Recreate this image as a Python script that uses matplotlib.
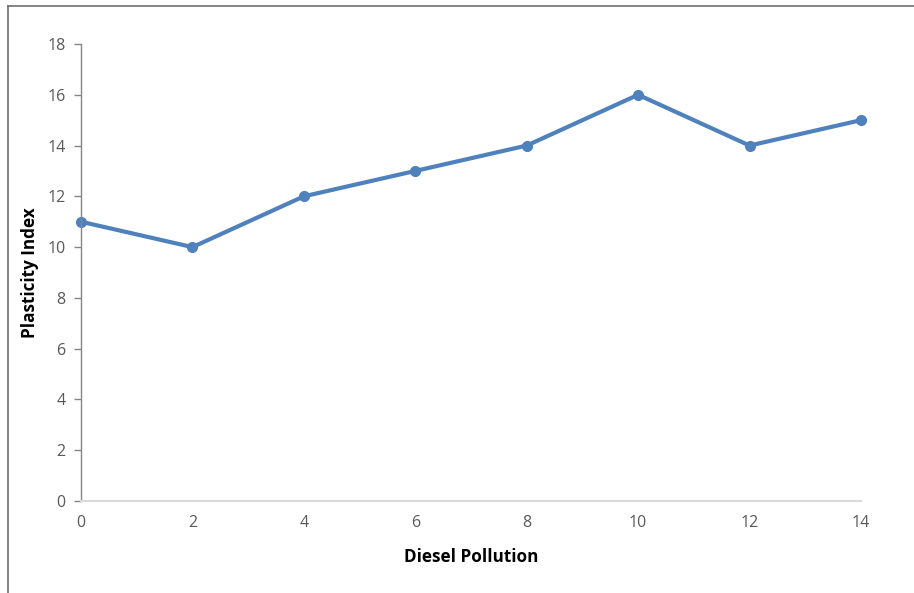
import matplotlib
matplotlib.use('Agg')
import matplotlib.pyplot as plt
from matplotlib.lines import Line2D

plt.rcParams['font.family'] = ['Open Sans', 'DejaVu Sans']

diesel = [0, 2, 4, 6, 8, 10, 12, 14]
plasticity = [11, 10, 12, 13, 14, 16, 14, 15]
yticks = [0, 2, 4, 6, 8, 10, 12, 14, 16, 18]

fig = plt.figure(figsize=(9.14, 5.93), dpi=100)
ax = fig.add_axes([81/914, 1-501/593, 780/914, 457/593])

ax.plot(diesel, plasticity, color='#4f81bd', lw=3.0, marker='o', ms=7, clip_on=False)

ax.set_xlim(0, 14)
ax.set_ylim(0, 18)
ax.set_xticks(diesel)
ax.set_yticks(yticks)

for s in ['top', 'right']:
    ax.spines[s].set_visible(False)
ax.spines['left'].set_color('#868686')
ax.spines['left'].set_linewidth(1.0)
ax.spines['bottom'].set_color('#d9d9d9')
ax.spines['bottom'].set_linewidth(1.5)

ax.tick_params(axis='y', direction='out', length=5, width=1, color='#868686',
               labelcolor='#595959', labelsize=11.5, pad=6)
ax.tick_params(axis='x', length=0, labelcolor='#595959', labelsize=11.5, pad=10)

ax.set_xlabel('Diesel Pollution', fontweight='bold', fontsize=12.3, labelpad=12)
ax.set_ylabel('Plasticity Index', fontweight='bold', fontsize=12.3, labelpad=6)

# chart border (only top and left edges visible in the original crop)
fig.add_artist(Line2D([8/914, 8/914], [0, 1-6/593], color='#6e6e6e', lw=1.2, transform=fig.transFigure))
fig.add_artist(Line2D([8/914, 1], [1-6/593, 1-6/593], color='#6e6e6e', lw=1.2, transform=fig.transFigure))

fig.savefig('out.png', dpi=100)
